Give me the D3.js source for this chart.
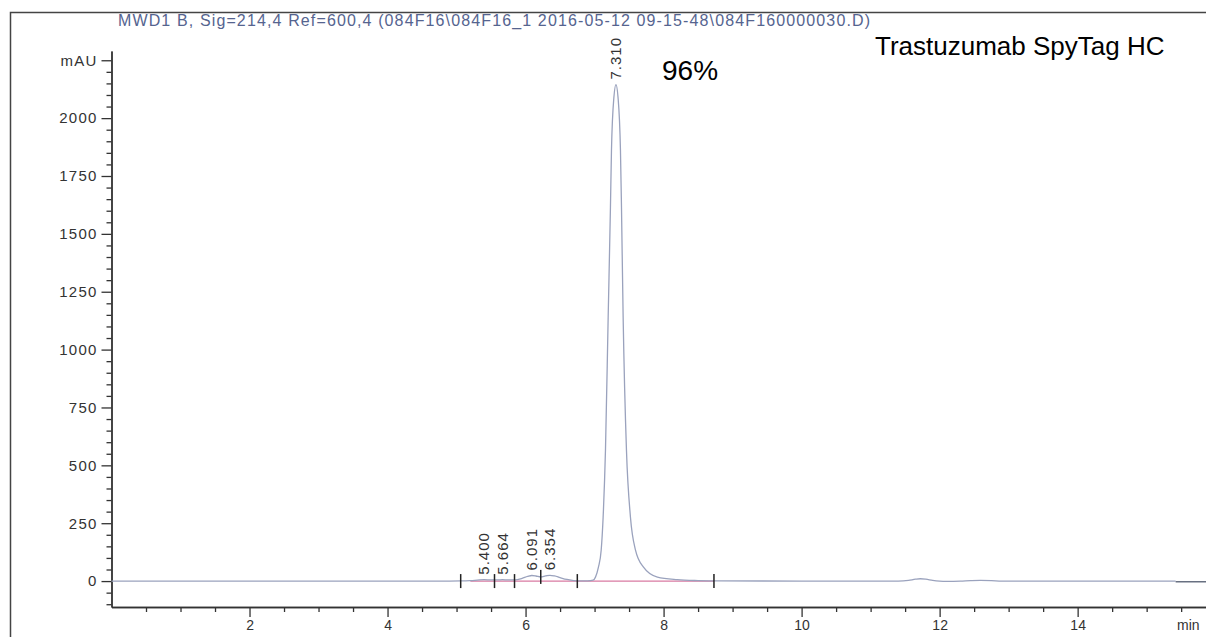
<!DOCTYPE html>
<html>
<head>
<meta charset="utf-8">
<script src="https://cdn.jsdelivr.net/npm/d3@7"></script>
<style>
  html, body { margin: 0; padding: 0; background: #fff; }
  svg { display: block; font-family: "Liberation Sans", Arial, sans-serif; }
</style>
</head>
<body>
<svg id="chart" width="1206" height="637"></svg>
<script>
// ---- Chromatogram data (retention time in min, absorbance in mAU) ----
const timeMin = [
  0, 4.9, 5.06, 5.2, 5.3, 5.4, 5.5, 5.6, 5.664, 5.75, 5.85, 5.95, 6.03, 6.091,
  6.15, 6.22, 6.29, 6.354, 6.42, 6.5, 6.6, 6.7, 6.8, 6.9, 6.98, 7.013, 7.056,
  7.096, 7.124, 7.158, 7.197, 7.23, 7.245, 7.28, 7.31, 7.34, 7.375, 7.39, 7.414,
  7.462, 7.52, 7.593, 7.709, 7.911, 8.2, 8.5, 8.8, 10.0, 11.4, 11.55, 11.65,
  11.72, 11.8, 11.9, 12.0, 12.1, 12.3, 12.45, 12.59, 12.75, 12.9, 15.42
];
const signalMAU = [
  0, 0, 0.5, 2, 4, 6, 5, 5, 6, 5, 5, 12, 20, 24,
  22, 18, 22, 25, 22, 15, 7, 2, 1, 1, 4, 17, 60,
  134, 276, 566, 1140, 1615, 1862, 2090, 2145, 2090, 1862, 1615, 1140,
  566, 276, 134, 60, 17, 6, 2, 0.5, 0, 0, 3, 8,
  10, 8, 3, 0, -1, 0, 2, 3, 2, 0, 0
];
// trailing segment of the trace after the run ends
const tailTime = [15.42, 15.86];
const tailMAU = [-3, -3];

// integrated peaks
const peakRT = [5.400, 5.664, 6.091, 6.354, 7.310];
const peakHeight = [6, 6, 24, 25, 2145];
const peakLabels = ["5.400", "5.664", "6.091", "6.354", "7.310"];

// integration events and baseline
const eventRT = [5.06, 5.55, 5.84, 6.22, 6.75, 8.73];
const eventMAU = [0, 0, 0, 18, 0, 0];
const baselineRT = [5.2, 8.73];
const baselineMAU = [0, 0];

// axis ticks
const yMajorTicks = [0, 250, 500, 750, 1000, 1250, 1500, 1750, 2000, 2250];
const yTickLabels = ["0", "250", "500", "750", "1000", "1250", "1500", "1750", "2000", "mAU"];
const yMinorTicks = d3.range(-100, 2251, 50).filter(v => v % 250 !== 0);
const xMajorTicks = [2, 4, 6, 8, 10, 12, 14];
const xMinorTicks = d3.range(0.5, 15.86, 0.5).filter(v => v % 2 !== 0);

const titleText = "MWD1 B, Sig=214,4 Ref=600,4 (084F16\\084F16_1 2016-05-12 09-15-48\\084F160000030.D)";
const sampleName = "Trastuzumab SpyTag HC";
const purityText = "96%";

// ---- Layout ----
const svg = d3.select("#chart");
const x = d3.scaleLinear().domain([0, 15.86]).range([111.5, 1206]);
const y = d3.scaleLinear().domain([-112, 2290]).range([607, 51]);

// outer frame
svg.append("path")
  .attr("d", "M10.5,640 V12.5 H1210")
  .attr("fill", "none")
  .attr("stroke", "#444")
  .attr("stroke-width", 1.5);

// title
svg.append("text")
  .attr("x", 118).attr("y", 26)
  .attr("font-size", 16)
  .attr("fill", "#55648f")
  .attr("textLength", 752)
  .attr("lengthAdjust", "spacing")
  .text(titleText);

// ---- Axes ----
const axisColor = "#333";
function styleAxis(g) {
  g.attr("font-size", 15)
   .attr("font-family", "\"Liberation Sans\", Arial, sans-serif");
  g.select(".domain").attr("stroke", axisColor).attr("stroke-width", 1.4);
  g.selectAll(".tick line").attr("stroke", axisColor).attr("stroke-width", 1.3);
  g.selectAll(".tick text").attr("fill", "#333");
}

// y minor
svg.append("g")
  .attr("transform", "translate(111.5,0)")
  .call(d3.axisLeft(y).tickValues(yMinorTicks).tickSize(5).tickSizeOuter(0).tickFormat(""))
  .call(styleAxis);
// y major
svg.append("g")
  .attr("transform", "translate(111.5,0)")
  .call(d3.axisLeft(y).tickValues(yMajorTicks).tickSize(10).tickSizeOuter(0).tickPadding(4)
    .tickFormat((d, i) => yTickLabels[i]))
  .call(styleAxis)
  .call(g => g.selectAll(".tick text").attr("letter-spacing", 1.2));

// x minor
svg.append("g")
  .attr("transform", "translate(0,607)")
  .call(d3.axisBottom(x).tickValues(xMinorTicks).tickSize(5).tickSizeOuter(0).tickFormat(""))
  .call(styleAxis);
// x major
svg.append("g")
  .attr("transform", "translate(0,607)")
  .call(d3.axisBottom(x).tickValues(xMajorTicks).tickSize(10).tickSizeOuter(0).tickPadding(3))
  .call(styleAxis)
  .call(g => g.attr("font-size", 14));

// axis unit on x
svg.append("text")
  .attr("x", 1177).attr("y", 630)
  .attr("font-size", 14).attr("fill", "#333")
  .text("min");

// ---- Integration baseline ----
const line = d3.line().x(d => x(d[0])).y(d => y(d[1]));
svg.append("path")
  .attr("d", line(d3.zip(baselineRT, baselineMAU)))
  .attr("fill", "none")
  .attr("stroke", "#d97aa2")
  .attr("stroke-width", 1.4);

// ---- Signal trace ----
const smooth = d3.line().x(d => x(d[0])).y(d => y(d[1])).curve(d3.curveMonotoneX);
svg.append("path")
  .attr("d", smooth(d3.zip(timeMin, signalMAU)))
  .attr("fill", "none")
  .attr("stroke", "#9aa2bd")
  .attr("stroke-width", 1.3);
svg.append("path")
  .attr("d", line(d3.zip(tailTime, tailMAU)))
  .attr("fill", "none")
  .attr("stroke", "#5d6678")
  .attr("stroke-width", 1.4);

// ---- Integration event marks ----
svg.append("g").selectAll("line")
  .data(d3.zip(eventRT, eventMAU))
  .join("line")
  .attr("x1", d => x(d[0])).attr("x2", d => x(d[0]))
  .attr("y1", d => y(d[1]) - 7).attr("y2", d => y(d[1]) + 7)
  .attr("stroke", "#222")
  .attr("stroke-width", 1.5);

// ---- Peak retention-time labels ----
svg.append("g").selectAll("text")
  .data(d3.zip(peakRT, peakHeight, peakLabels))
  .join("text")
  .attr("transform", d => `translate(${x(d[0])},${y(d[1]) - 5}) rotate(-90)`)
  .attr("dy", "0.35em")
  .attr("font-size", 15)
  .attr("letter-spacing", 1)
  .attr("fill", "#333")
  .text(d => d[2]);

// ---- Annotations ----
svg.append("text")
  .attr("x", 662).attr("y", 80)
  .attr("font-size", 28).attr("fill", "#000")
  .text(purityText);
svg.append("text")
  .attr("x", 875).attr("y", 55)
  .attr("font-size", 26).attr("fill", "#000")
  .text(sampleName);
</script>
</body>
</html>
